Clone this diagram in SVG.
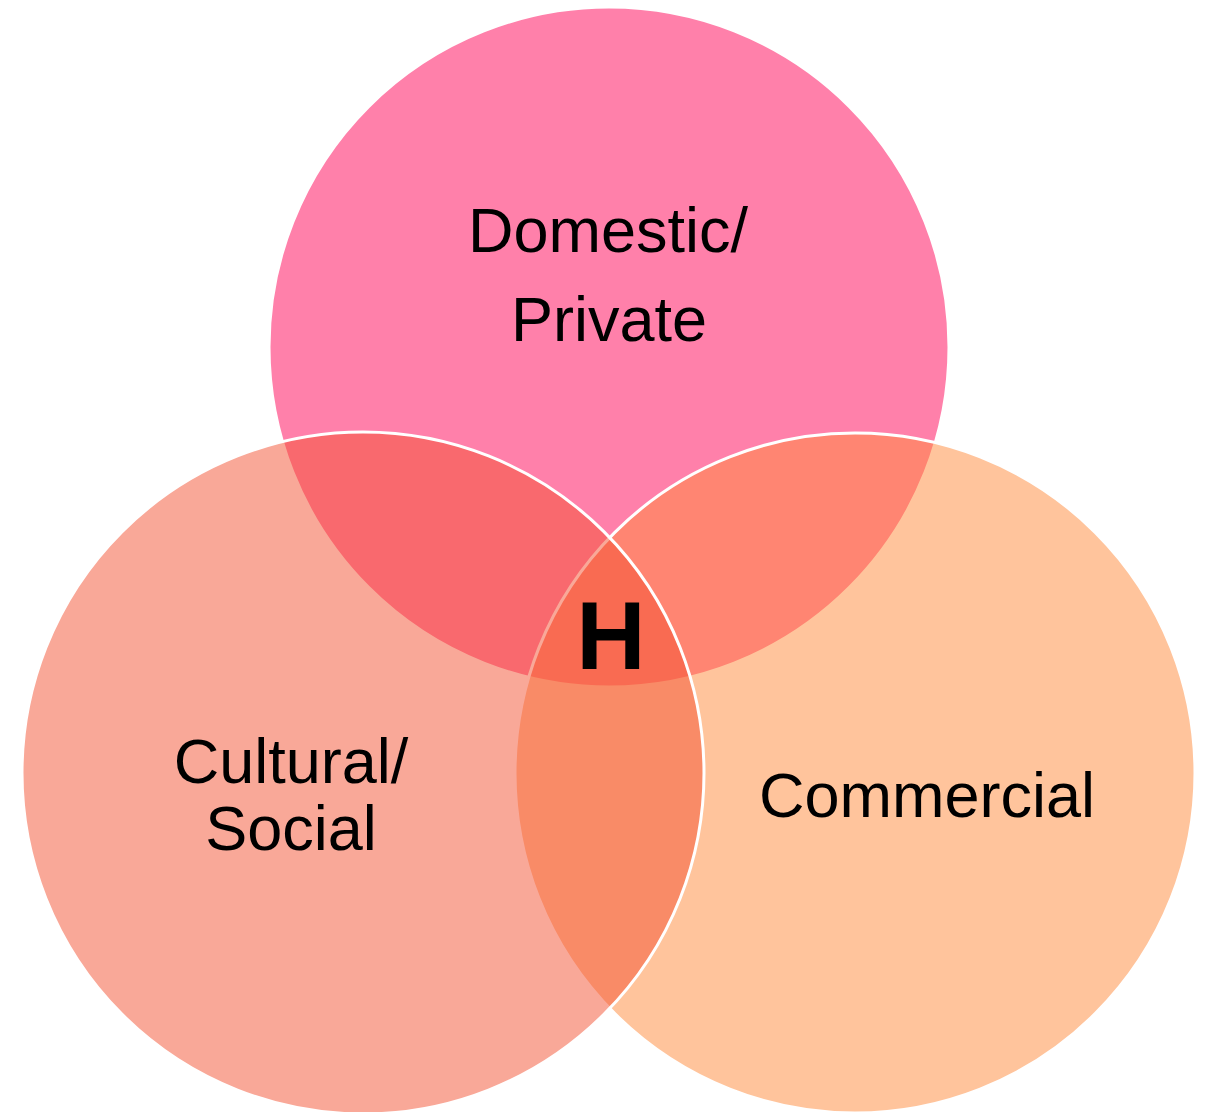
<svg xmlns="http://www.w3.org/2000/svg" width="1205" height="1112" viewBox="0 0 1205 1112">
<style>
.c{stroke:#fff;stroke-width:3}
.t{font-family:"Liberation Sans",Arial,sans-serif;font-size:63px;fill:#000;text-anchor:middle}
.h{font-family:"Liberation Sans",Arial,sans-serif;font-size:96px;font-weight:bold;fill:#000;text-anchor:middle}
</style>
<rect width="1205" height="1112" fill="#fff"/>
<g id="domestic">
<circle class="c" cx="609" cy="347" r="340" fill="#FF80AA"/>
</g>
<g id="commercial">
<circle class="c" cx="855" cy="773" r="340" fill="rgb(255,137,57)" fill-opacity="0.5"/>
</g>
<g id="cultural">
<circle class="c" cx="363" cy="773" r="341" fill="rgb(243,81,49)" fill-opacity="0.5"/>
</g>
<g id="labels">
<text class="t" x="608" y="252">Domestic/</text>
<text class="t" x="609" y="341">Private</text>
<text class="t" x="291" y="783">Cultural/</text>
<text class="t" x="291" y="850">Social</text>
<text class="t" x="927" y="817">Commercial</text>
<text class="h" x="611" y="669">H</text>
</g>
<g id="connectors"/>
</svg>
